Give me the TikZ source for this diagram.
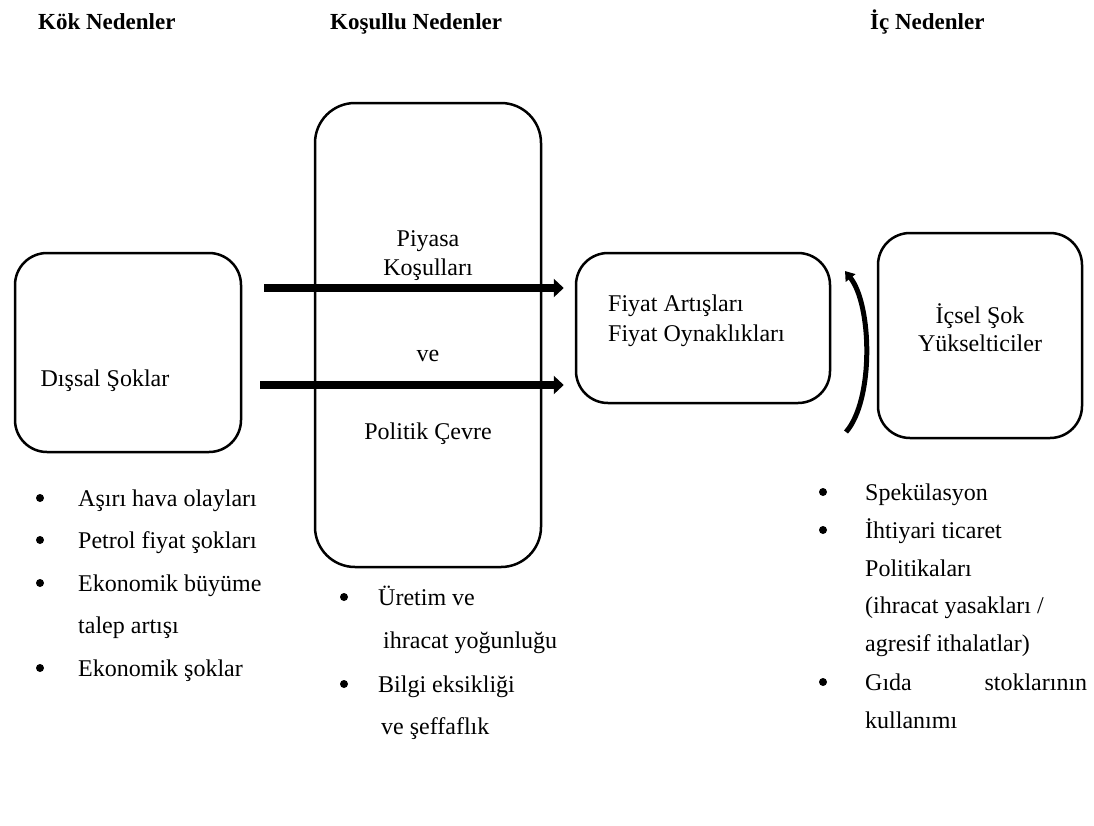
\documentclass[tikz,border=0pt]{standalone}
\usepackage{fontspec}
\setmainfont{Liberation Serif}
\usetikzlibrary{arrows.meta}

\begin{document}
\begin{tikzpicture}
[x=1pt,y=-1pt,%
  every node/.style={font=\fontsize{24}{29}\selectfont,inner sep=0pt},%
  kutu/.style={draw,line width=2.5pt,rounded corners=32pt},%
  baslik/.style={font=\fontsize{23}{29}\selectfont\bfseries,anchor=base west},%
  yazi/.style={anchor=base},%
  madde/.style={anchor=base west},%
  nokta/.style={circle,fill,minimum size=8pt},%
  kalin/.style={line width=8pt,-{Triangle[length=10pt,width=18pt]}}]
\useasboundingbox (0,0) rectangle (1094,825);
% basliklar
\node[baslik] (hkok) at (38,29) {Kök Nedenler};
\node[baslik] (hkosul) at (330,29) {Koşullu Nedenler};
\node[baslik] (hic) at (870,29) {İç Nedenler};
% kutular
\node[kutu,minimum width=226pt,minimum height=199pt] (dis) at (128,352.5) {};
\node[kutu,minimum width=226pt,minimum height=464pt,rounded corners=40pt] (kosul) at (428,335) {};
\node[kutu,minimum width=254pt,minimum height=150pt] (fiyat) at (703,328) {};
\node[kutu,minimum width=204pt,minimum height=205pt] (icsel) at (980,335.5) {};
% kutu yazilari
\node[yazi] (tdis) at (105,386) {Dışsal Şoklar};
\node[yazi] (tpiy) at (kosul.center |- 0,246) {Piyasa};
\node[yazi] (tkos) at (kosul.center |- 0,275) {Koşulları};
\node[yazi] (tve) at (kosul.center |- 0,361) {ve};
\node[yazi] (tpol) at (kosul.center |- 0,439) {Politik Çevre};
\node[madde] (tart) at (608,311) {Fiyat Artışları};
\node[madde] (toyn) at (608,341) {Fiyat Oynaklıkları};
\node[yazi] (tics) at (icsel.center |- 0,323) {İçsel Şok};
\node[yazi] (tyuk) at (icsel.center |- 0,351) {Yükselticiler};
% oklar
\coordinate (o1) at (264,288);
\coordinate (o2) at (260,385);
\draw[kalin,shorten >=11pt] (o1) -- (fiyat.west |- o1);
\draw[kalin,shorten >=11pt] (o2) -- (fiyat.west |- o2);
\coordinate (k1) at (846,432);
\coordinate (k2) at (845,271);
\draw[line width=5pt,-{Triangle[length=9pt,width=12pt]}] (k1) .. controls (874,400) and (872,305) .. (k2);
% kok nedenler
\node[nokta] (b1) at (40,498) {};
\node[madde] (l1) at (78,506) {Aşırı hava olayları};
\node[nokta] (b2) at (40,540) {};
\node[madde] (l2) at (78,548) {Petrol fiyat şokları};
\node[nokta] (b3) at (40,583) {};
\node[madde] (l3) at (78,591) {Ekonomik büyüme};
\node[madde] (l4) at (78,633) {talep artışı};
\node[nokta] (b5) at (40,668) {};
\node[madde] (l5) at (78,676) {Ekonomik şoklar};
% kosullu nedenler
\node[nokta] (m1b) at (344,597) {};
\node[madde] (m1) at (378,605) {Üretim ve};
\node[madde] (m2) at (383,648) {ihracat yoğunluğu};
\node[nokta] (m3b) at (344,684) {};
\node[madde] (m3) at (378,692) {Bilgi eksikliği};
\node[madde] (m4) at (381,734) {ve şeffaflık};
% ic nedenler
\node[nokta] (r1b) at (823,492) {};
\node[madde] (r1) at (865,500) {Spekülasyon};
\node[nokta] (r2b) at (823,530) {};
\node[madde] (r2) at (865,538) {İhtiyari ticaret};
\node[madde] (r3) at (865,576) {Politikaları};
\node[madde] (r4) at (865,613) {(ihracat yasakları /};
\node[madde] (r5) at (865,651) {agresif ithalatlar)};
\node[nokta] (r6b) at (823,682) {};
\node[madde] (r6) at (865,690) {\hbox to 222pt{Gıda\hfill stoklarının}};
\node[madde] (r7) at (865,728) {kullanımı};
\end{tikzpicture}
\end{document}
